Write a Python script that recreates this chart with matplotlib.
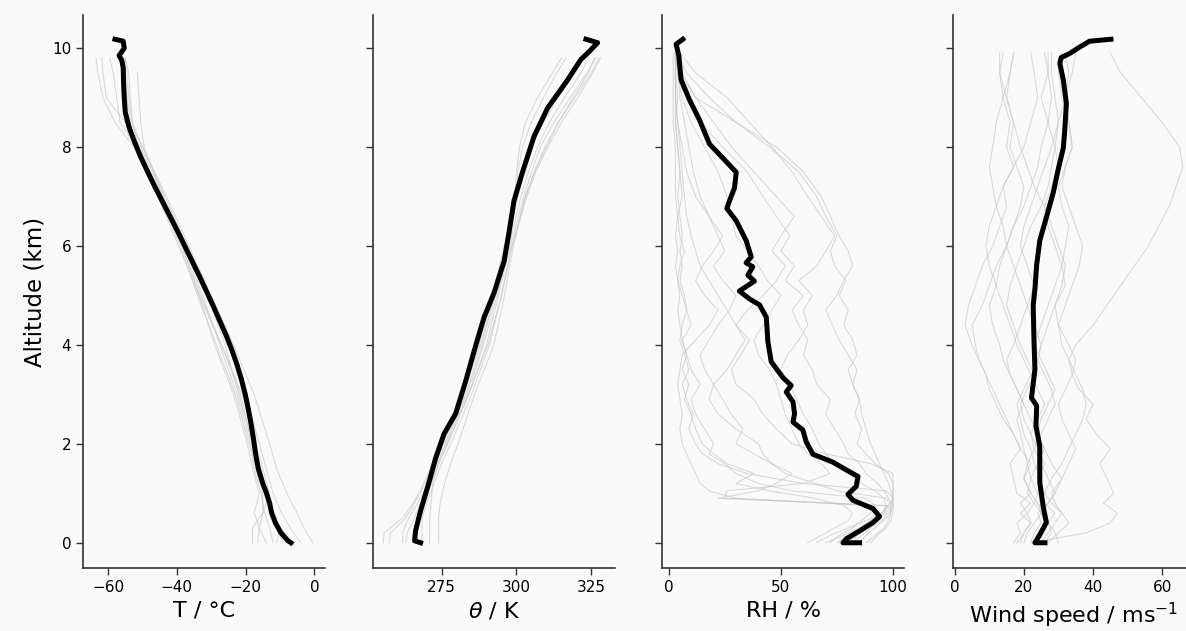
import numpy as np
import matplotlib
matplotlib.use("Agg")
import matplotlib.pyplot as plt

# ---------------- Temperature panel ----------------
t_mean_alt = [10.18, 10.14, 10.0, 9.85, 9.75, 9.6, 9.3, 9.0, 8.7, 8.4, 8.1, 7.8, 7.5, 7.2, 6.9, 6.6,
              6.3, 6.0, 5.7, 5.4, 5.1, 4.8, 4.5, 4.2, 3.9, 3.6, 3.3, 3.0, 2.7, 2.4, 2.1, 1.8, 1.5,
              1.2, 1.0, 0.8, 0.6, 0.4, 0.2, 0.05, 0.0]
t_mean = [-58.0, -55.6, -55.3, -56.8, -56.0, -55.6, -55.5, -55.3, -55.0, -53.9, -52.3, -50.5, -48.5,
          -46.4, -44.2, -42.0, -39.8, -37.7, -35.6, -33.5, -31.5, -29.5, -27.6, -25.7, -24.0, -22.5,
          -21.2, -20.1, -19.2, -18.4, -17.7, -17.1, -16.3, -15.0, -13.9, -13.0, -12.4, -11.3, -9.7,
          -7.8, -6.8]

t_grey_alt = [0, 0.3, 0.6, 1, 1.5, 2, 3, 4, 5, 6, 7, 8, 8.5, 9, 9.5, 9.8]
t_g1 = [-18, -18, -15, -15, -17, -19, -23, -28.5, -34, -39, -45, -52.5, -58, -61.5, -63, -63.5]
t_g2 = [-16.5, -16, -17.5, -16, -18, -19.5, -23.5, -29, -33.5, -38.5, -44, -50.5, -55, -60.5, -61.5, -61.8]
t_g3 = [-12, -13, -14.5, -15.5, -17.5, -18.5, -22.5, -27.5, -32.5, -38, -44.5, -51.5, -56.5, -57.5, -58.5, -59.5]
t_g4 = [-9, -11, -13, -14.5, -16, -18, -22, -26, -31, -37, -43.5, -50, -53.5, -54.5, -55, -55.5]
t_g5 = [-4, -7, -9.5, -12, -14, -16, -20, -24.5, -30.5, -37, -44, -49.5, -50.5, -51, -51.5, np.nan]
t_g6 = [-0.5, -3, -5, -8, -11, -13, -17.5, -23.5, -30, -36.5, -43, -50, -53, -54, -54.5, -55]
t_g7 = [-14, -16, -15, -13, -15, -17, -21, -27, -33, -38.5, -44.5, -51, -53, -53.5, -54, -55]
t_g8 = [-11, -10, -12, -13.5, -16, -18, -21.5, -27, -33.5, -39.5, -45.5, -52, -54.5, -55.5, -56, -56.5]

# ---------------- Potential temperature panel ----------------
th_mean_alt = [10.18, 10.11, 9.93, 9.77, 9.36, 8.79, 8.22, 7.49, 6.92, 6.27, 5.70, 5.05, 4.56,
               3.99, 3.26, 2.61, 2.20, 1.71, 1.22, 0.65, 0.24, 0.04, 0.0]
th_mean = [323.2, 327.1, 324.3, 321.5, 317.1, 310.4, 305.9, 302.0, 299.2, 297.5, 295.9, 292.5, 289.2,
           286.4, 283.0, 279.7, 275.8, 273.0, 270.8, 268.0, 266.3, 266.0, 268.0]

th_grey_alt = [0, 0.2, 0.5, 0.8, 1.2, 1.6, 2, 3, 4, 5, 6, 7, 7.5, 8, 8.5, 9, 9.5, 9.8]
th_g1 = [255.5, 255.8, 262, 265.5, 269, 272, 275, 281.5, 287.5, 292, 296, 299.5, 300, 301, 303, 307, 312, 315]
th_g2 = [257.5, 258, 263, 266, 269.5, 272.5, 275.5, 282, 288, 293, 297, 300, 300.5, 302, 305, 309, 313.5, 316.5]
th_g3 = [262, 262, 264, 267, 270.5, 273, 276, 283, 288.5, 292.5, 296.5, 300.5, 302.5, 305, 309, 314, 319.5, 322]
th_g4 = [263, 263.5, 266, 268, 270.5, 273.5, 276.5, 283.5, 289, 293.5, 297.5, 301.5, 304, 307, 311, 316, 321.5, 324]
th_g5 = [265.5, 265.5, 267, 269, 271.5, 274, 277, 284, 290, 294, 298, 302.5, 305, 308, 312.5, 318, 323.5, 326.5]
th_g6 = [268.5, 268.5, 268.5, 270, 272.5, 275, 278, 285, 291, 295, 298.5, 303, 306, 309.5, 314, 319.5, 325, 327.5]
th_g7 = [271, 271, 271, 271.5, 272, 274, 277, 284, 290.5, 295, 298.5, 303.5, 306.5, 310.5, 315, 320.5, 325.5, 328]
th_g8 = [274, 274, 274, 274.5, 276, 278, 280.5, 286, 292.5, 296, 299, 303, 306, 310, 314, 319, 324, 326]

# ---------------- Relative humidity panel ----------------
rh_mean_alt = [10.18, 10.08, 9.85, 9.36, 8.96, 8.55, 8.06, 7.78, 7.49, 7.17, 7.00, 6.76, 6.51, 6.11,
               5.78, 5.66, 5.58, 5.41, 5.29, 5.09, 4.93, 4.81, 4.56, 4.07, 3.66, 3.34, 3.18, 3.05,
               2.85, 2.61, 2.44, 2.28, 2.04, 1.79, 1.63, 1.51, 1.34, 1.14, 0.98, 0.86, 0.69, 0.53,
               0.41, 0.24, 0.08, 0.0, 0.0]
rh_mean = [6.3, 3.3, 4.5, 5.5, 9.2, 13.7, 18.2, 24.1, 30.1, 29.3, 27.8, 25.9, 30.1, 34.5,
           36.8, 34.5, 37.5, 35.3, 38.2, 31.5, 36.0, 40.5, 43.5, 44.2, 45.7, 50.9, 54.6, 52.4,
           55.4, 56.1, 55.4, 59.8, 61.3, 64.3, 73.2, 77.7, 84.4, 83.6, 79.9, 82.1, 91.1, 94.0,
           91.1, 85.1, 79.2, 77.7, 85.1]

rh_grey_alt = [0, 0.15, 0.3, 0.45, 0.6, 0.75, 0.9, 1.05, 1.2, 1.4, 1.6, 1.8, 2.0, 2.3, 2.6, 2.9,
               3.2, 3.5, 3.8, 4.1, 4.4, 4.7, 5.0, 5.3, 5.6, 5.9, 6.2, 6.6, 7.0, 7.5, 8.0, 8.5,
               9.0, 9.5, 9.9]
rh_g1 = [66, 72, 80, 88, 95, 98, 100, 97, 60, 35, 22, 15, 12, 9, 11, 8, 6, 9, 7, 5, 6, 8, 6, 4, 5,
         7, 5, 4, 6, 5, 4, 3, 4, 3, 3]
rh_g2 = [85, 88, 92, 96, 99, 100, 100, 100, 100, 98, 92, 88, 84, 86, 83, 85, 82, 80, 84, 82, 78,
         80, 76, 79, 74, 72, 75, 70, 66, 58, 45, 30, 18, 8, 4]
rh_g3 = [90, 93, 97, 99, 100, 100, 98, 96, 93, 88, 85, 80, 78, 74, 70, 72, 66, 64, 60, 62, 58, 55,
         60, 52, 56, 50, 54, 48, 42, 35, 24, 14, 8, 5, 3]
rh_g4 = [75, 80, 86, 92, 96, 98, 25, 26, 60, 72, 68, 62, 58, 55, 52, 50, 48, 45, 40, 38, 42, 46,
         50, 44, 40, 35, 30, 28, 26, 22, 16, 10, 6, 4, 3]
rh_g5 = [70, 78, 85, 90, 95, 97, 22, 40, 48, 55, 46, 38, 30, 33, 28, 24, 20, 16, 14, 18, 22, 27,
         30, 24, 20, 25, 22, 18, 14, 11, 9, 7, 5, 4, 3]
rh_g6 = [62, 68, 74, 80, 82, 78, 65, 45, 30, 38, 26, 20, 15, 12, 10, 7, 9, 6, 8, 6, 10, 8, 7, 5,
         6, 5, 6, 5, 4, 5, 4, 3, 3, 3, 3]
rh_g7 = [88, 92, 96, 98, 99, 99, 97, 75, 65, 52, 46, 42, 40, 30, 22, 18, 20, 26, 30, 34, 30, 35,
         42, 48, 52, 46, 50, 56, 48, 38, 28, 20, 12, 6, 4]
rh_g8 = [76, 80, 86, 92, 96, 97, 96, 92, 86, 80, 74, 70, 67, 64, 60, 57, 54, 50, 53, 58, 62, 60,
         64, 58, 66, 70, 74, 68, 62, 55, 46, 36, 26, 12, 5]
rh_g9 = [82, 86, 90, 95, 98, 100, 100, 99, 98, 96, 94, 92, 90, 88, 86, 85, 82, 84, 80, 76, 73, 70,
         75, 78, 82, 80, 76, 72, 68, 60, 48, 30, 12, 5, 3]
rh_g10 = [80, 84, 88, 92, 94, 90, 30, 18, 14, 12, 10, 8, 6, 5, 6, 5, 4, 5, 6, 12, 18, 22, 16, 12,
          15, 20, 24, 18, 12, 8, 6, 4, 3, 3, 3]
rh_g11 = [72, 76, 82, 86, 90, 92, 88, 55, 40, 30, 25, 18, 20, 16, 12, 10, 14, 10, 8, 6, 5, 4, 5,
          4, 3, 4, 3, 4, 3, 3, 3, 2, 2, 2, 2]
rh_g12 = [78, 82, 88, 93, 97, 99, 100, 100, 100, 100, 90, 70, 55, 48, 42, 38, 30, 28, 32, 36, 30,
          26, 22, 18, 14, 12, 10, 8, 7, 6, 5, 4, 3, 3, 3]

# ---------------- Wind speed panel ----------------
ws_mean_alt = [10.18, 10.14, 10.02, 9.89, 9.81, 9.69, 9.36, 8.88, 8.31, 7.98, 7.57, 7.08, 6.60, 6.11,
               5.62, 5.13, 4.81, 4.15, 3.50, 2.93, 2.77, 2.36, 1.95, 1.22, 0.73, 0.41, 0.16, 0.0, 0.0]
ws_mean = [45.2, 39.0, 36.1, 33.2, 30.8, 30.4, 31.4, 32.3, 31.8, 31.4, 30.0, 28.5, 26.6, 24.6,
           23.7, 23.2, 22.7, 22.9, 23.2, 22.2, 23.7, 23.5, 24.6, 24.6, 25.6, 26.5, 24.6, 23.2, 26.1]

ws_grey_alt = [0, 0.2, 0.4, 0.6, 0.8, 1.0, 1.3, 1.6, 1.9, 2.2, 2.5, 2.8, 3.1, 3.4, 3.7, 4.0, 4.4,
               4.8, 5.2, 5.6, 6.0, 6.4, 6.8, 7.2, 7.6, 8.0, 8.5, 9.0, 9.5, 9.9]
ws_g1 = [22, 38, 45, 47, 43, 46, 44, 42, 45, 41, 38, 40, 36, 34, 33, 35, 40, 44, 48, 52, 56, 59,
         62, 64, 66, 65, 60, 54, 48, 45]
ws_g2 = [17, 19, 18, 21, 19, 22, 20, 22, 19, 17, 14, 12, 10, 9, 7, 5, 3, 4, 6, 8, 11, 13, 15, 14,
         17, 15, 16, 14, 13, 14]
ws_g3 = [18, 20, 22, 19, 22, 18, 17, 16, 19, 17, 15, 13, 11, 9, 7, 6, 5, 8, 10, 12, 15, 17, 19,
         20, 18, 16, 17, 15, 16, 17]
ws_g4 = [24, 25, 27, 29, 26, 24, 22, 21, 20, 19, 18, 20, 18, 16, 14, 13, 11, 10, 12, 13, 15, 17,
         20, 22, 24, 25, 27, 28, 27, 27]
ws_g5 = [25, 27, 29, 31, 28, 26, 24, 26, 24, 22, 20, 19, 21, 23, 21, 19, 17, 15, 16, 18, 20, 22,
         25, 27, 28, 29, 30, 29, 28, 28]
ws_g6 = [22, 23, 25, 24, 27, 29, 31, 28, 26, 24, 25, 27, 29, 27, 25, 23, 25, 27, 29, 31, 32, 33,
         31, 30, 32, 34, 33, 32, 33, 32]
ws_g7 = [27, 30, 33, 31, 29, 28, 31, 33, 35, 33, 31, 30, 32, 34, 35, 33, 30, 29, 32, 31, 29, 27,
         26, 28, 30, 29, 27, 25, 27, 26]
ws_g8 = [20, 21, 23, 25, 24, 22, 20, 21, 23, 25, 27, 29, 28, 26, 24, 25, 27, 29, 31, 32, 30, 28,
         26, 23, 21, 19, 17, 15, 13, 13]
ws_g9 = [19, 20, 22, 21, 23, 24, 25, 23, 22, 20, 19, 18, 20, 22, 24, 25, 23, 21, 19, 17, 15, 14,
         12, 11, 10, 11, 12, 14, 16, 17]
ws_g10 = [30, 29, 27, 26, 24, 26, 28, 31, 33, 35, 37, 38, 37, 35, 33, 31, 30, 32, 34, 36, 37, 35,
          33, 31, 32, 34, 33, 31, 30, 31]
ws_g11 = [23, 24, 26, 25, 23, 21, 22, 24, 26, 24, 22, 20, 18, 16, 15, 17, 19, 21, 23, 21, 19, 20,
          22, 24, 26, 28, 30, 32, 34, 35]
ws_g12 = [26, 28, 27, 25, 27, 29, 27, 25, 23, 22, 24, 26, 24, 22, 20, 18, 16, 14, 12, 10, 9, 10,
          12, 14, 17, 20, 22, 24, 23, 22]

alt_ticks = [0, 2, 4, 6, 8, 10]

panels = [
    dict(grey_alt=t_grey_alt, greys=[t_g1, t_g2, t_g3, t_g4, t_g5, t_g6, t_g7, t_g8],
         mean_alt=t_mean_alt, mean=t_mean, xlim=(-67.3, 3.1), xticks=[-60, -40, -20, 0],
         xlabel="T / °C"),
    dict(grey_alt=th_grey_alt, greys=[th_g1, th_g2, th_g3, th_g4, th_g5, th_g6, th_g7, th_g8],
         mean_alt=th_mean_alt, mean=th_mean, xlim=(252.1, 332.9), xticks=[275, 300, 325],
         xlabel=r"$\theta$ / K"),
    dict(grey_alt=rh_grey_alt,
         greys=[rh_g1, rh_g2, rh_g3, rh_g4, rh_g5, rh_g6, rh_g7, rh_g8, rh_g9, rh_g10, rh_g11, rh_g12],
         mean_alt=rh_mean_alt, mean=rh_mean, xlim=(-3.0, 104.9), xticks=[0, 50, 100],
         xlabel="RH / %"),
    dict(grey_alt=ws_grey_alt,
         greys=[ws_g1, ws_g2, ws_g3, ws_g4, ws_g5, ws_g6, ws_g7, ws_g8, ws_g9, ws_g10, ws_g11, ws_g12],
         mean_alt=ws_mean_alt, mean=ws_mean, xlim=(-0.5, 69.5), xticks=[0, 20, 40, 60],
         xlabel=r"Wind speed / ms$^{-1}$"),
]

bg = "#fafafa"
fig = plt.figure(figsize=(11.86, 6.31), dpi=100, facecolor=bg)
lefts = [83, 373, 662, 953]
width_px = 242
bottom = 1 - 568 / 631
height = (568 - 15) / 631

for i, p in enumerate(panels):
    ax = fig.add_axes([lefts[i] / 1186, bottom, width_px / 1186, height], facecolor=bg)
    for g in p["greys"]:
        ax.plot(g, p["grey_alt"], color="#c8c8c8", lw=0.8, alpha=0.65)
    ax.plot(p["mean"], p["mean_alt"], color="black", lw=3.6)
    ax.set_xlim(*p["xlim"])
    ax.set_ylim(-0.51, 10.67)
    ax.set_xticks(p["xticks"])
    ax.set_yticks(alt_ticks)
    ax.set_xlabel(p["xlabel"], fontsize=16)
    for s in ["top", "right"]:
        ax.spines[s].set_visible(False)
    for s in ["left", "bottom"]:
        ax.spines[s].set_color("#333333")
        ax.spines[s].set_linewidth(1.2)
    ax.tick_params(axis="both", labelsize=11, length=5, width=1.0, color="#333333")
    if i == 0:
        ax.set_ylabel("Altitude (km)", fontsize=16.5)
    else:
        ax.tick_params(axis="y", labelleft=False)

fig.savefig("out.png", dpi=100, facecolor=bg)
